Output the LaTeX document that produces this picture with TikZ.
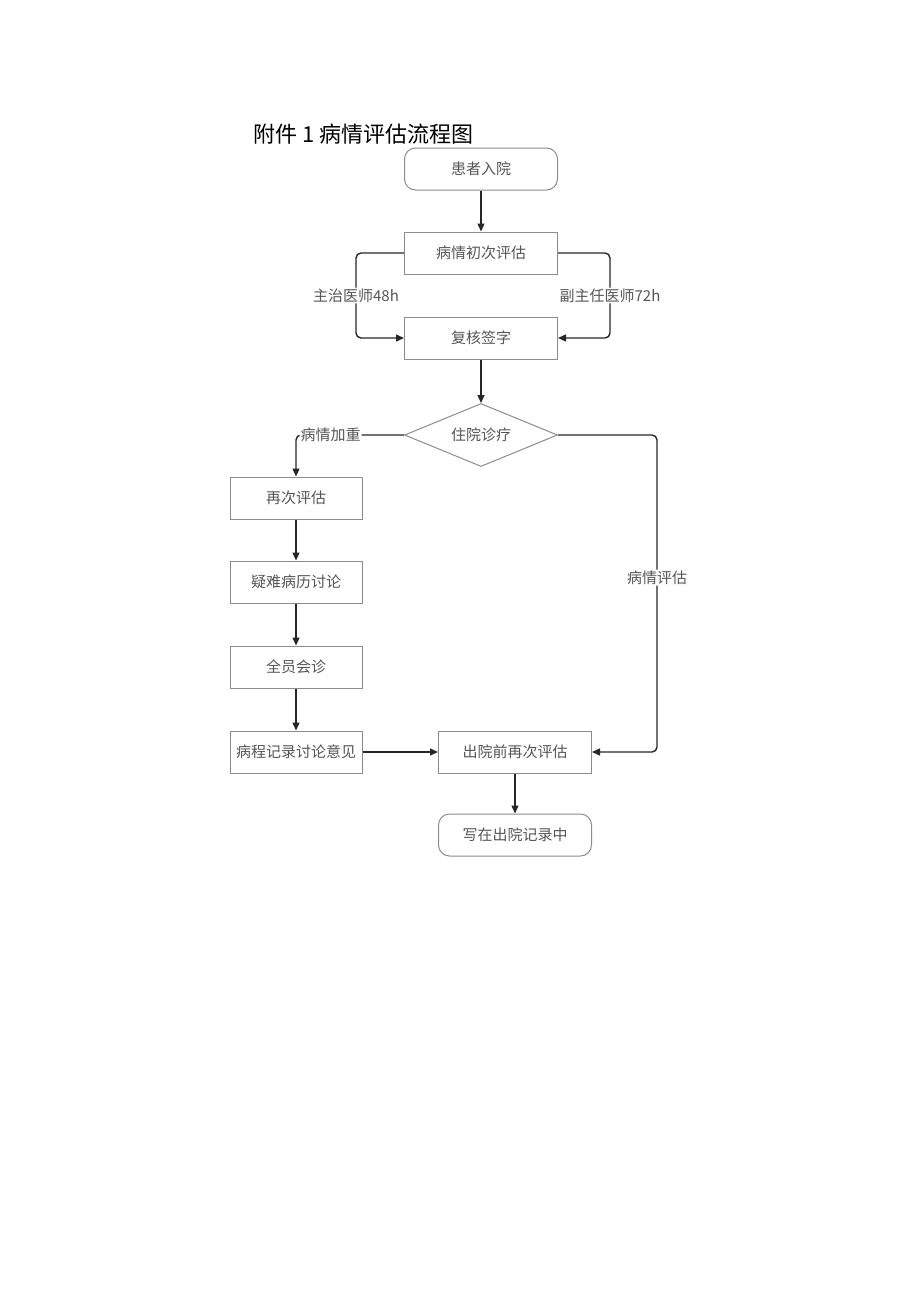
\documentclass[tikz,border=0pt]{standalone}
\usepackage{fontspec}
\setmainfont{Noto Sans CJK SC}
\usetikzlibrary{arrows.meta,shapes.geometric}
\definecolor{boxline}{HTML}{8C8C8C}
\definecolor{boxtext}{HTML}{555555}
\definecolor{conn}{HTML}{262626}
\tikzset{
  box/.style={draw=boxline, line width=1pt, text=boxtext, minimum width=153pt,
    minimum height=42pt, inner sep=0pt, font=\fontsize{15}{17}\selectfont},
  smallbox/.style={box, minimum width=132pt},
  endbox/.style={box, rounded corners=11pt},
  decide/.style={box, shape=diamond, aspect=2.4, minimum width=153pt, minimum height=63pt},
  flow/.style={draw=conn, line width=1.4pt, rounded corners=5pt, -{Triangle[length=8pt,width=7pt]}},
  lbl/.style={fill=white, text=boxtext, inner sep=1pt, font=\fontsize{15}{17}\selectfont}
}
\begin{document}
\begin{tikzpicture}[x=1pt,y=-1pt]
\useasboundingbox (0,0) rectangle (920,1301);
\node[anchor=west, font=\fontsize{22}{25}\selectfont] (title) at (250,134) {附件 1 病情评估流程图};

\node[endbox] (ruyuan) at (481,169) {患者入院};
\node[box] (chuping) at (481,253) {病情初次评估};
\node[box] (fuhe) at (481,338) {复核签字};
\node[decide] (zhuyuan) at (481,435) {住院诊疗};
\node[smallbox] (zaici) at (296,498) {再次评估};
\node[smallbox] (yinan) at (296,582) {疑难病历讨论};
\node[smallbox] (huizhen) at (296,667) {全员会诊};
\node[smallbox] (jilu) at (296,752) {病程记录讨论意见};
\node[box] (chuqian) at (515,752) {出院前再次评估};
\node[endbox] (xiezai) at (515,835) {写在出院记录中};

\draw[flow] (ruyuan) -- (chuping);
\draw[flow] (chuping.west) -- ++(-48,0) |- node[lbl, pos=0.25] {主治医师48h} (fuhe.west);
\draw[flow] (chuping.east) -- ++(52,0) |- node[lbl, pos=0.25] {副主任医师72h} (fuhe.east);
\draw[flow] (fuhe) -- (zhuyuan);
\draw[flow] (zhuyuan.west) -| node[lbl, pos=0.34] {病情加重} (zaici.north);
\draw[flow] (zaici) -- (yinan);
\draw[flow] (yinan) -- (huizhen);
\draw[flow] (huizhen) -- (jilu);
\draw[flow] (jilu) -- (chuqian);
\draw[flow] (zhuyuan.east) -- ++(99,0) |- node[lbl, pos=0.225] {病情评估} (chuqian.east);
\draw[flow] (chuqian) -- (xiezai);
\end{tikzpicture}
\end{document}
